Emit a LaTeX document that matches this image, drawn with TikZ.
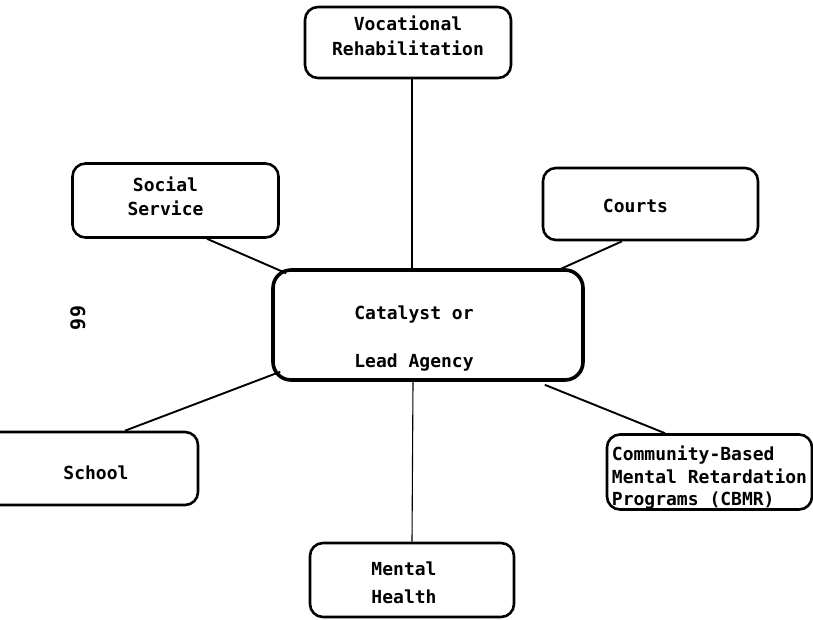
\documentclass[tikz,border=0pt]{standalone}
\usepackage{fontspec}
\setmonofont{DejaVu Sans Mono}
\begin{document}
\begin{tikzpicture}[x=1pt,y=-1pt,
  txt/.style={font=\ttfamily\bfseries\fontsize{18}{25}\selectfont, align=center, inner sep=0pt},
  box/.style={draw, line width=2.6pt, rounded corners=13pt, inner sep=0pt, align=center,
    font=\ttfamily\bfseries\fontsize{18}{25}\selectfont},
  bigbox/.style={box, line width=3.6pt, rounded corners=18pt},
  thin/.style={line width=1.1pt},
  thick/.style={line width=1.9pt}]
\useasboundingbox (0,0) rectangle (813,619);
\node[box, minimum width=206pt, minimum height=71pt,
  label={[txt, yshift=7pt]center:Vocational\\Rehabilitation}] (voc) at (408,42.5) {};
\node[box, minimum width=206pt, minimum height=74pt,
  label={[txt, font=\ttfamily\bfseries\fontsize{18}{24}\selectfont, xshift=-10pt, yshift=4pt]center:Social\\Service}] (soc) at (175.5,200.5) {};
\node[box, minimum width=215pt, minimum height=72pt,
  label={[txt, xshift=-15pt, yshift=-2pt]center:Courts}] (crt) at (650.5,204) {};
\node[bigbox, minimum width=310pt, minimum height=110pt,
  label={[txt, xshift=-14pt, yshift=-14pt]center:Catalyst or\\[23pt]Lead Agency}] (cat) at (428,325) {};
\node[box, minimum width=218pt, minimum height=73pt,
  label={[txt, xshift=7pt, yshift=-4pt]center:School}] (sch) at (89,468.5) {};
\node[box, minimum width=205pt, minimum height=75pt,
  label={[txt, align=left, font=\ttfamily\bfseries\fontsize{18}{22.5}\selectfont, yshift=-6pt]center:Community-Based\\Mental Retardation\\Programs (CBMR)}] (cb) at (709.5,472) {};
\node[box, minimum width=204pt, minimum height=74pt,
  label={[txt, font=\ttfamily\bfseries\fontsize{18}{28}\selectfont, xshift=-8pt, yshift=-3pt]center:Mental\\Health}] (mh) at (412,580) {};
\node[rotate=-90, font=\ttfamily\bfseries\fontsize{20}{22}\selectfont] (pg) at (78,318) {66};
\draw[thin] ([xshift=4pt]voc.south) -- ([xshift=-16pt]cat.north);
\draw[thin] ([xshift=-15pt]cat.south) -- (mh.north);
\draw[thick] ([xshift=31.5pt]soc.south) -- ([xshift=15pt,yshift=-5pt]cat.north west);
\draw[thick] ([xshift=-28.5pt]crt.south) -- ([xshift=-27pt,yshift=-2pt]cat.north east);
\draw[thick] ([xshift=9pt,yshift=10pt]cat.south west) -- ([xshift=36pt]sch.north);
\draw[thick] ([xshift=-40pt,yshift=-3pt]cat.south east) -- ([xshift=-44.5pt]cb.north);
\end{tikzpicture}
\end{document}
